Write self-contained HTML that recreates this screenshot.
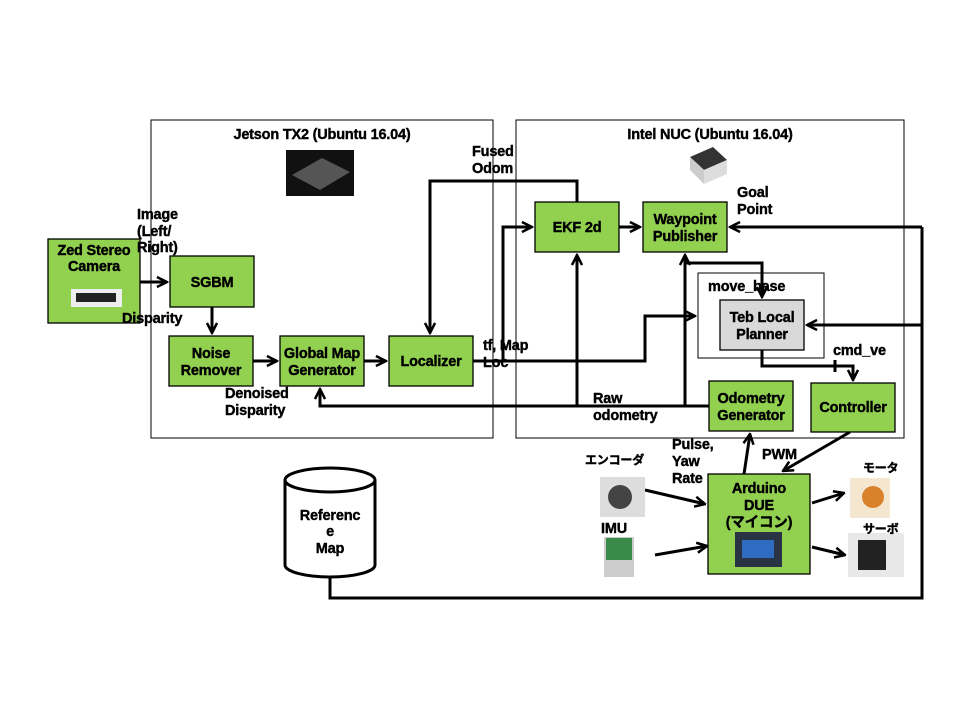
<!DOCTYPE html>
<html><head><meta charset="utf-8"><style>
html,body{margin:0;padding:0;background:#fff;}
svg{display:block;}
text{font-family:"Liberation Sans","Noto Sans CJK JP",sans-serif;font-weight:bold;font-size:14.5px;fill:#000;letter-spacing:-0.2px;stroke:#000;stroke-width:0.4px;}
.g{fill:#92d050;stroke:#000;stroke-width:1.3;}
.l{fill:none;stroke:#000;stroke-width:3;}
</style></head><body>
<svg width="960" height="720" viewBox="0 0 960 720" xmlns="http://www.w3.org/2000/svg">
<defs>
<marker id="ar" viewBox="0 0 10 10" refX="9" refY="5" markerWidth="4.2" markerHeight="4.2" orient="auto" markerUnits="strokeWidth">
<path d="M1,1 L9,5 L1,9" fill="none" stroke="#000" stroke-width="2"/>
</marker>
</defs>
<rect x="151" y="120" width="342" height="318" fill="none" stroke="#000" stroke-width="1"/>
<rect x="516" y="120" width="388" height="318" fill="none" stroke="#000" stroke-width="1"/>
<rect x="698" y="273" width="126" height="85" fill="none" stroke="#000" stroke-width="1"/>
<text x="322" y="139" text-anchor="middle">Jetson TX2 (Ubuntu 16.04)</text>
<text x="710" y="139" text-anchor="middle">Intel NUC (Ubuntu 16.04)</text>
<rect x="286" y="150" width="68" height="46" fill="#111"/>
<polygon points="292,175 322,158 350,172 320,190" fill="#555"/>
<polygon points="690,157 713,147 727,160 704,170" fill="#333"/>
<polygon points="690,157 704,170 704,184 690,170" fill="#ccc"/>
<polygon points="704,170 727,160 727,174 704,184" fill="#ddd"/>
<path class="l" d="M577,202 V181 H430 V333" marker-end="url(#ar)"/>
<path class="l" d="M473,361 H645 V316 H695" marker-end="url(#ar)"/>
<path class="l" d="M503,361 V227 H532" marker-end="url(#ar)"/>
<path class="l" d="M619,227 H640" marker-end="url(#ar)"/>
<path class="l" d="M922,227 H730" marker-end="url(#ar)"/>
<path class="l" d="M922,227 V598 H330 V577"/>
<path class="l" d="M922,325 H807" marker-end="url(#ar)"/>
<path class="l" d="M709,406 H320 V389" marker-end="url(#ar)"/>
<path class="l" d="M577,406 V255" marker-end="url(#ar)"/>
<path class="l" d="M685,406 V255" marker-end="url(#ar)"/>
<path class="l" d="M685,263 H762 V297" marker-end="url(#ar)"/>
<path class="l" d="M762,350 V366 H853 V380" marker-end="url(#ar)"/>
<path class="l" d="M835,360 V372" stroke-width="2"/>
<path class="l" d="M140,282 H167" marker-end="url(#ar)"/>
<path class="l" d="M212,307 V333" marker-end="url(#ar)"/>
<path class="l" d="M253,361 H277" marker-end="url(#ar)"/>
<path class="l" d="M364,361 H386" marker-end="url(#ar)"/>
<path class="l" d="M850,432 L783,471" marker-end="url(#ar)"/>
<path class="l" d="M744,474 L750,434" marker-end="url(#ar)"/>
<path class="l" d="M645,490 L705,504" marker-end="url(#ar)"/>
<path class="l" d="M655,555 L707,546" marker-end="url(#ar)"/>
<path class="l" d="M812,503 L844,493" marker-end="url(#ar)"/>
<path class="l" d="M812,547 L845,555" marker-end="url(#ar)"/>
<rect class="g" x="48" y="239" width="92" height="84"/>
<text x="94" y="255" text-anchor="middle">Zed Stereo</text>
<text x="94" y="271" text-anchor="middle">Camera</text>
<rect x="71" y="289" width="51" height="18" fill="#eee"/>
<rect x="76" y="293" width="40" height="9" fill="#222"/>
<rect class="g" x="170" y="256" width="84" height="51"/>
<text x="212" y="287" text-anchor="middle">SGBM</text>
<rect class="g" x="169" y="336" width="84" height="50"/>
<text x="211" y="358" text-anchor="middle">Noise</text>
<text x="211" y="375" text-anchor="middle">Remover</text>
<rect class="g" x="280" y="336" width="84" height="50"/>
<text x="322" y="358" text-anchor="middle">Global Map</text>
<text x="322" y="375" text-anchor="middle">Generator</text>
<rect class="g" x="389" y="336" width="84" height="50"/>
<text x="431" y="366" text-anchor="middle">Localizer</text>
<rect class="g" x="535" y="202" width="84" height="50"/>
<text x="577" y="232" text-anchor="middle">EKF 2d</text>
<rect class="g" x="643" y="202" width="84" height="50"/>
<text x="685" y="224" text-anchor="middle">Waypoint</text>
<text x="685" y="241" text-anchor="middle">Publisher</text>
<rect x="720" y="300" width="84" height="50" fill="#d9d9d9" stroke="#000" stroke-width="1.3"/>
<text x="762" y="322" text-anchor="middle">Teb Local</text>
<text x="762" y="339" text-anchor="middle">Planner</text>
<rect class="g" x="709" y="381" width="84" height="50"/>
<text x="751" y="403" text-anchor="middle">Odometry</text>
<text x="751" y="420" text-anchor="middle">Generator</text>
<rect class="g" x="811" y="383" width="84" height="49"/>
<text x="853" y="412" text-anchor="middle">Controller</text>
<rect class="g" x="708" y="474" width="102" height="100"/>
<text x="759" y="493" text-anchor="middle">Arduino</text>
<text x="759" y="510" text-anchor="middle">DUE</text>
<text x="759" y="527" text-anchor="middle">(マイコン)</text>
<rect x="735" y="532" width="47" height="35" fill="#2a3344"/>
<rect x="742" y="540" width="32" height="18" fill="#2d6cc0"/>
<path d="M285,480 V565 A45,12 0 0 0 375,565 V480" fill="#fff" stroke="#000" stroke-width="3"/>
<ellipse cx="330" cy="480" rx="45" ry="12" fill="#fff" stroke="#000" stroke-width="3"/>
<text x="330" y="520" text-anchor="middle">Referenc</text>
<text x="330" y="536" text-anchor="middle">e</text>
<text x="330" y="553" text-anchor="middle">Map</text>
<rect x="600" y="477" width="45" height="40" fill="#ddd"/>
<circle cx="620" cy="497" r="12" fill="#444"/>
<rect x="604" y="537" width="30" height="40" fill="#ccc"/>
<rect x="606" y="538" width="26" height="22" fill="#3a8a4a"/>
<rect x="850" y="478" width="40" height="40" fill="#f5e6d0"/>
<circle cx="873" cy="497" r="11" fill="#d9822b"/>
<rect x="848" y="533" width="56" height="44" fill="#e8e8e8"/>
<rect x="858" y="540" width="28" height="30" fill="#222"/>
<text x="137" y="219">Image</text>
<text x="137" y="236">(Left/</text>
<text x="137" y="252">Right)</text>
<text x="122" y="323">Disparity</text>
<text x="225" y="398">Denoised</text>
<text x="225" y="415">Disparity</text>
<text x="472" y="156">Fused</text>
<text x="472" y="173">Odom</text>
<text x="483" y="350">tf, Map</text>
<text x="483" y="367">Loc</text>
<text x="737" y="197">Goal</text>
<text x="737" y="214">Point</text>
<text x="708" y="291">move_base</text>
<text x="833" y="355">cmd_ve</text>
<text x="593" y="403">Raw</text>
<text x="593" y="420">odometry</text>
<text x="672" y="449">Pulse,</text>
<text x="672" y="466">Yaw</text>
<text x="672" y="483">Rate</text>
<text x="762" y="459">PWM</text>
<text x="585" y="464" style="font-size:12px">エンコーダ</text>
<text x="601" y="533">IMU</text>
<text x="863" y="472" style="font-size:12px">モータ</text>
<text x="863" y="533" style="font-size:12px">サーボ</text>
</svg>
</body></html>
